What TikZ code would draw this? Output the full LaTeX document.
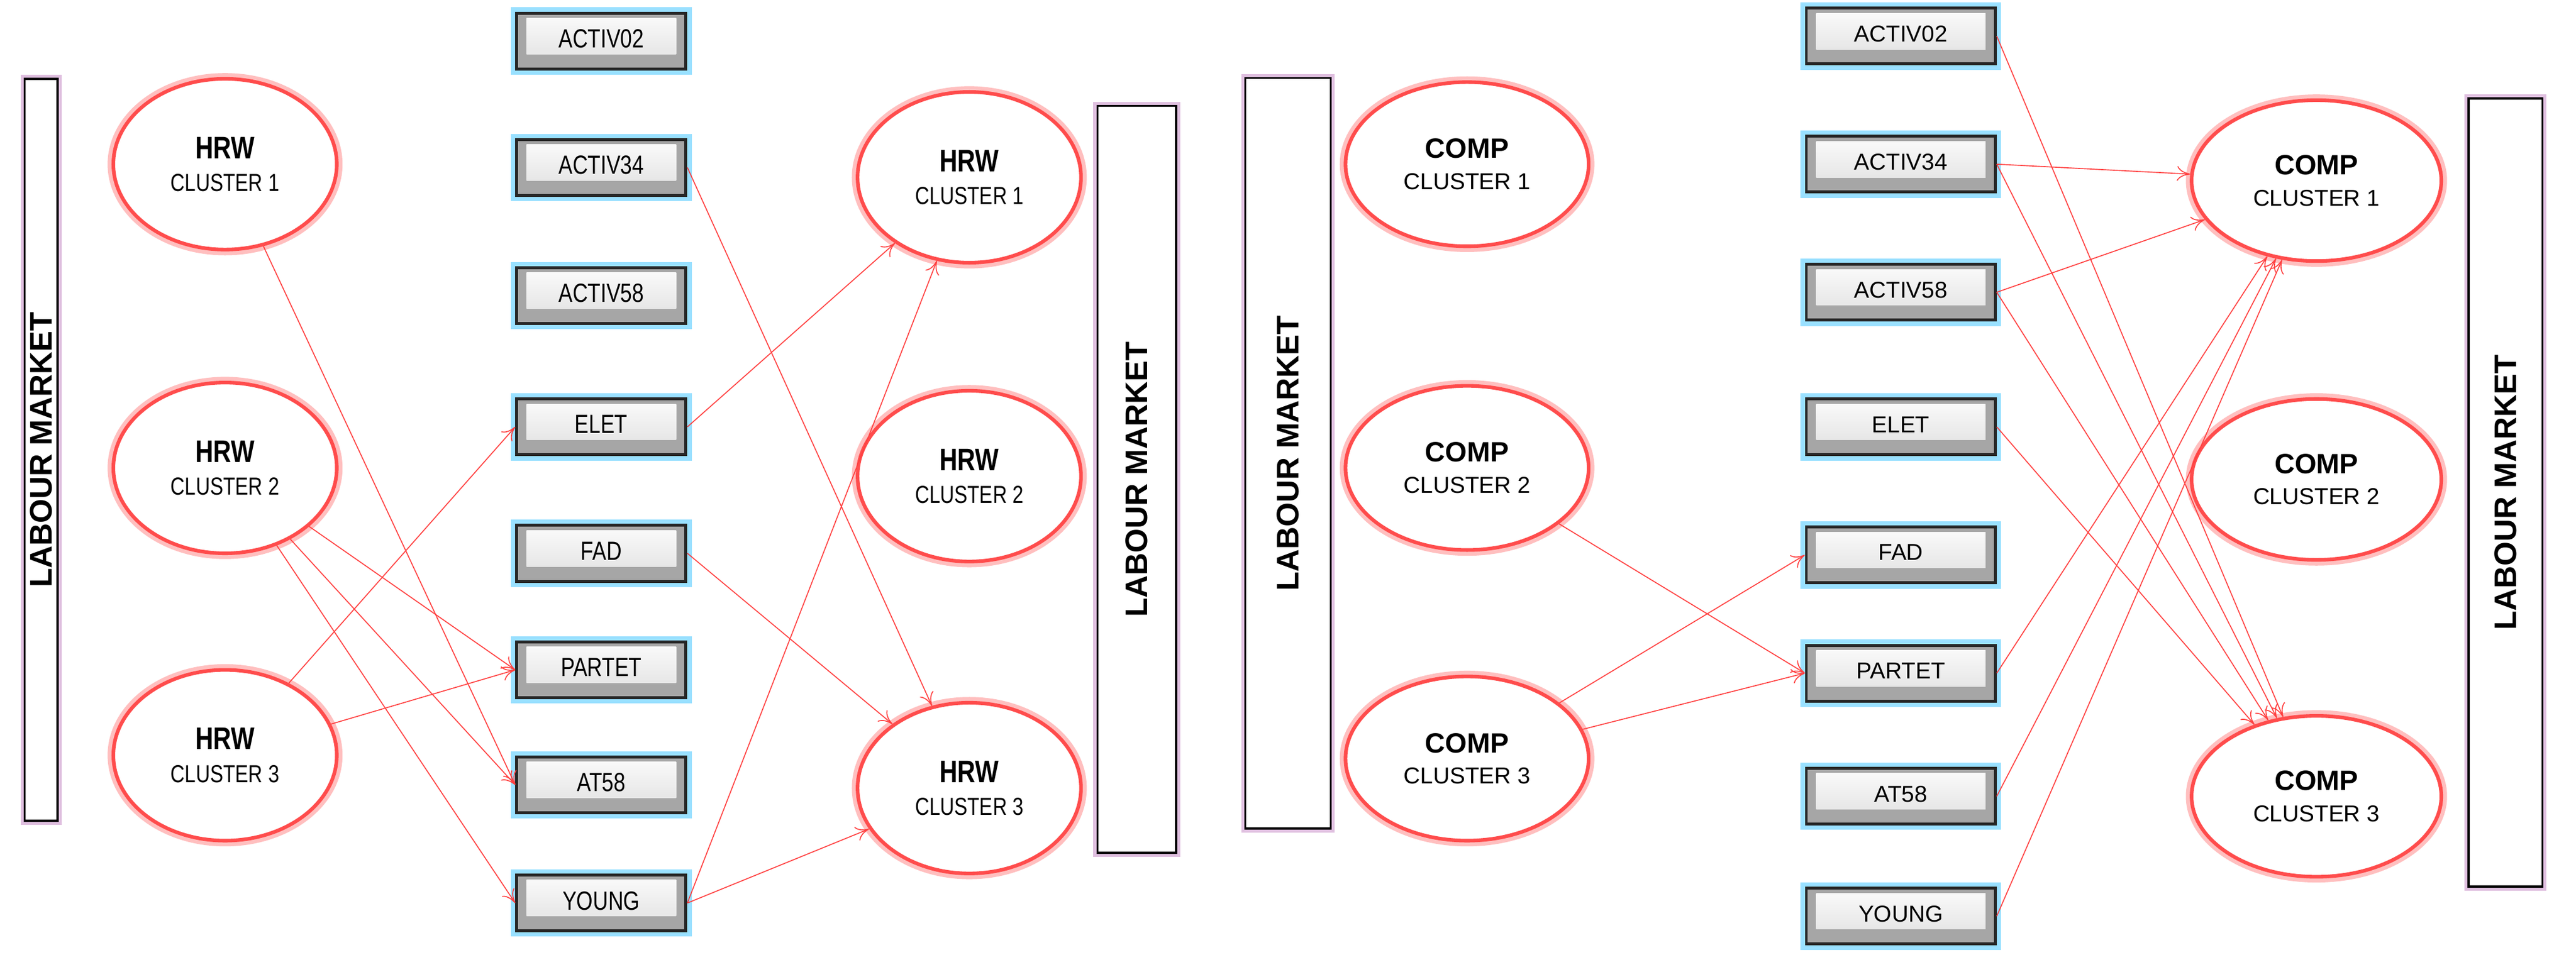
\documentclass[tikz,border=0pt]{standalone}
\usepackage{fontspec}
\setmainfont{Liberation Sans}
\newfontfamily\narrowf{Liberation Sans}[FakeStretch=0.8]
\usetikzlibrary{shapes.geometric,arrows.meta}
\begin{document}
\begin{tikzpicture}[x=1pt,y=-1pt,
 lm/.style={draw=black,line width=1.3pt,fill=white,preaction={draw=violet!25,line width=5pt},minimum width=#1,inner sep=0pt},
 cl/.style={ellipse,draw=red!70,line width=2.2pt,fill=white,preaction={draw=red!25,line width=7pt},minimum width=#1,align=center,inner sep=0pt},
 bx/.style={rectangle,draw=black!85,line width=1.8pt,fill=gray!70,minimum height=34pt,minimum width=#1,inner sep=0pt,
   preaction={draw=blue!30!cyan!40,line width=7pt},
   path picture={\shade[top color=gray!3,bottom color=gray!25]
     ([shift={(6pt,-3pt)}]path picture bounding box.north west) rectangle ([shift={(-6pt,9pt)}]path picture bounding box.south east);}},
 ar/.style={draw=red!75,line width=0.6pt,-{To[length=8pt,width=9pt]}},
 lmt/.style={rotate=90,font=\bfseries\fontsize{19}{22}\selectfont}]
\useasboundingbox (0,0) rectangle (1568,592);
% left half
\node[lm=20pt,minimum height=452pt] (lmA) at (25,274) {};
\node[lmt] at (lmA) {LABOUR MARKET};
\foreach \n/\y in {1/100,2/285,3/460}{
 \node[cl=136pt,minimum height=104pt,font=\narrowf] (h\n) at (137,\y)
  {{\bfseries\fontsize{19}{21}\selectfont HRW}\\[8pt]{\fontsize{15}{17}\selectfont CLUSTER \n}};}
\foreach \n/\y in {1/108,2/290,3/480}{
 \node[cl=136pt,minimum height=104pt,font=\narrowf] (g\n) at (590,\y)
  {{\bfseries\fontsize{19}{21}\selectfont HRW}\\[8pt]{\fontsize{15}{17}\selectfont CLUSTER \n}};}
\node[lm=48pt,minimum height=455pt] (lmB) at (692,292) {};
\node[lmt] at (lmB) {LABOUR MARKET};
\foreach \k/\t/\y in {a/ACTIV02/25,b/ACTIV34/102,c/ACTIV58/180,d/ELET/260,e/FAD/337,f/PARTET/408,g/AT58/478,h/YOUNG/550}{
 \node[bx=103pt,font=\narrowf\fontsize{16}{18}\selectfont] (L\k) at (366,\y) {\raisebox{3pt}{\t}};}
\draw[ar] (h1) -- (Lg.west);
\draw[ar] (h2) -- (Lf.west);
\draw[ar] (h2) -- (Lg.west);
\draw[ar] (h2) -- (Lh.west);
\draw[ar] (h3) -- (Ld.west);
\draw[ar] (h3) -- (Lf.west);
\draw[ar] (Lb.east) -- (g3);
\draw[ar] (Ld.east) -- (g1);
\draw[ar] (Le.east) -- (g3);
\draw[ar] (Lh.east) -- (g1);
\draw[ar] (Lh.east) -- (g3);
% right half
\node[lm=52pt,minimum height=457pt] (lmC) at (784,276) {};
\node[lmt] at (lmC) {LABOUR MARKET};
\foreach \n/\y in {1/100,2/285,3/462}{
 \node[cl=148pt,minimum height=100pt] (c\n) at (893,\y)
  {{\bfseries\fontsize{17}{19}\selectfont COMP}\\[7pt]{\fontsize{14}{16}\selectfont CLUSTER \n}};}
\foreach \n/\y in {1/110,2/292,3/485}{
 \node[cl=152pt,minimum height=98pt] (d\n) at (1410,\y)
  {{\bfseries\fontsize{17}{19}\selectfont COMP}\\[7pt]{\fontsize{14}{16}\selectfont CLUSTER \n}};}
\node[lm=45pt,minimum height=480pt] (lmD) at (1525,300) {};
\node[lmt] at (lmD) {LABOUR MARKET};
\foreach \k/\t/\y in {a/ACTIV02/22,b/ACTIV34/100,c/ACTIV58/178,d/ELET/260,e/FAD/338,f/PARTET/410,g/AT58/485,h/YOUNG/558}{
 \node[bx=115pt,font=\fontsize{14}{16}\selectfont] (R\k) at (1157,\y) {\raisebox{3pt}{\t}};}
\draw[ar] (c2) -- (Rf.west);
\draw[ar] (c3) -- (Re.west);
\draw[ar] (c3) -- (Rf.west);
\draw[ar] (Ra.east) -- (d3);
\draw[ar] (Rb.east) -- (d1);
\draw[ar] (Rb.east) -- (d3);
\draw[ar] (Rc.east) -- (d1);
\draw[ar] (Rc.east) -- (d3);
\draw[ar] (Rd.east) -- (d3);
\draw[ar] (Rf.east) -- (d1);
\draw[ar] (Rg.east) -- (d1);
\draw[ar] (Rh.east) -- (d1);
\end{tikzpicture}
\end{document}
